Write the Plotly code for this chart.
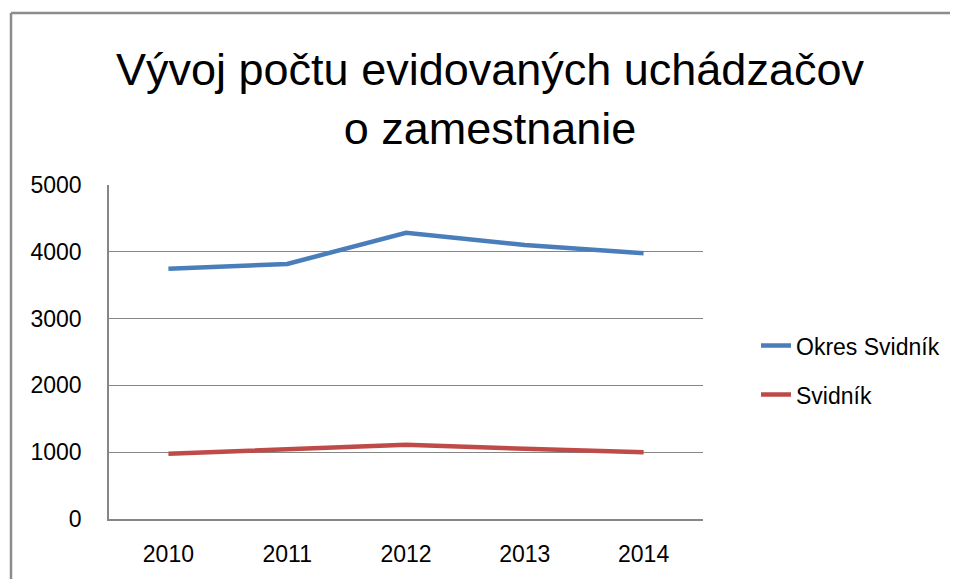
import plotly.graph_objects as go

years = ["2010", "2011", "2012", "2013", "2014"]
okres_svidnik = [3745, 3818, 4285, 4103, 3980]
svidnik = [975, 1050, 1113, 1050, 1000]
y_ticks = [0, 1000, 2000, 3000, 4000, 5000]

OFF = 8  # page body margin
W, H = 958 - OFF, 579 - OFF
L, T = 109 - OFF, 185 - OFF
pw, ph = 594, 336
R, B = W - L - pw, H - T - ph


def px_x(x):
    return (x - OFF - L) / pw


def px_y(y):
    return (T + ph - (y - OFF)) / ph


fig = go.Figure()
fig.add_trace(go.Scatter(x=years, y=okres_svidnik, mode="lines", name="Okres Svidník",
                         line=dict(color="#4A7EBB", width=4.5), legendgroup="a"))
fig.add_trace(go.Scatter(x=years, y=svidnik, mode="lines", name="Svidník",
                         line=dict(color="#BE4B48", width=4.5), legendgroup="b"))

gray = "#868686"
font = "Liberation Sans, Arial, sans-serif"

# outer chart border (left and top)
bx, by = px_x(11), px_y(12)
fig.add_shape(type="line", xref="paper", yref="paper", x0=bx, x1=bx, y0=by, y1=-0.3,
              line=dict(color="#8c8c8c", width=2.5))
fig.add_shape(type="line", xref="paper", yref="paper", x0=bx, x1=1.6, y0=by, y1=by,
              line=dict(color="#8c8c8c", width=2.5))

fig.add_annotation(text="Vývoj počtu evidovaných uchádzačov<br>o zamestnanie",
                   xref="paper", yref="paper", x=px_x(490), y=px_y(98),
                   xanchor="center", yanchor="middle", showarrow=False,
                   font=dict(family=font, size=45, color="black"))

fig.update_layout(
    width=W, height=H,
    margin=dict(l=L, r=R, t=T, b=B),
    paper_bgcolor="white", plot_bgcolor="white",
    xaxis=dict(type="category", range=[-0.5, 4.5], showgrid=False, showline=True,
               linecolor=gray, linewidth=1.5, ticks="", tickfont=dict(family=font, size=23, color="black"),
               ticklabelstandoff=14),
    yaxis=dict(range=[0, 5000], tickvals=y_ticks, showgrid=True, gridcolor=gray, gridwidth=1,
               showline=True, linecolor=gray, linewidth=1.5, ticks="", zeroline=False,
               tickfont=dict(family=font, size=23, color="black"), ticklabelstandoff=21),
    legend=dict(x=px_x(756), xanchor="left", y=px_y(325), yanchor="top",
                font=dict(family=font, size=23, color="black"), tracegroupgap=16,
                bgcolor="rgba(0,0,0,0)"),
    showlegend=True,
)

fig.write_html("out.html")
